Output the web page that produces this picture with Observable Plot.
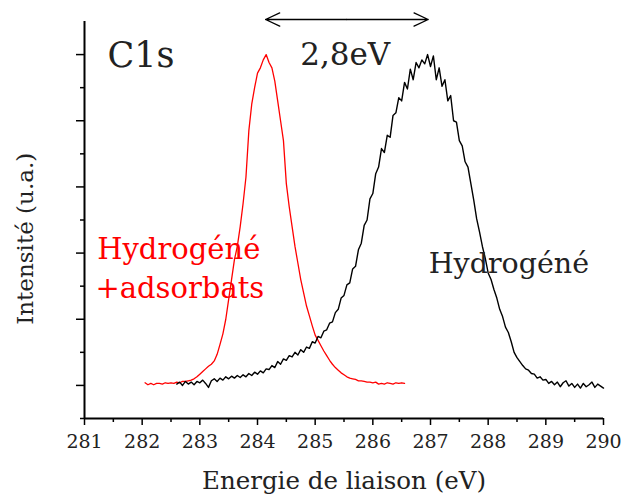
<!DOCTYPE html>
<html><head><meta charset="utf-8">
<script src="https://cdn.jsdelivr.net/npm/d3@7"></script>
<script src="https://cdn.jsdelivr.net/npm/@observablehq/plot@0.6"></script>
<style>
body{margin:0;background:#fff}
</style>
</head><body><div id="chart"></div>
<script>
// Axis ticks
const xTicks = [281, 282, 283, 284, 285, 286, 287, 288, 289, 290];
const xMinorTicks = [281.5, 282.5, 283.5, 284.5, 285.5, 286.5, 287.5, 288.5, 289.5];
const yTicks = [0, 1, 2, 3, 4, 5];
const yMinorTicks = [-0.5, 0.5, 1.5, 2.5, 3.5, 4.5];

// Spectra sampling (eV)
const redStart = 282.05, blackStart = 282.60, stepEv = 0.05;

// "Hydrogéné + adsorbats" (red), 282.05 -> 286.55 eV
const redIntensity = [
  0.04,0.01,0.03,0.01,0.03,0.03,0.02,0.04,0.03,0.04,0.03,0.05,0.04,0.06,0.06,0.07,0.08,0.10,0.13,
  0.17,0.21,0.25,0.29,0.32,0.37,0.47,0.62,0.78,1.00,1.30,1.60,1.90,2.10,2.40,2.75,3.15,3.85,4.25,4.50,
  4.72,4.80,4.92,5.00,4.88,4.80,4.60,4.30,4.00,3.70,3.05,2.70,2.40,2.10,1.85,1.60,1.40,1.20,1.05,0.90,
  0.76,0.68,0.60,0.52,0.45,0.38,0.32,0.27,0.23,0.19,0.16,0.13,0.11,0.10,0.09,0.07,0.07,0.06,0.05,0.05,
  0.04,0.05,0.02,0.03,0.02,0.04,0.03,0.02,0.04,0.03,0.04,0.03
];

// "Hydrogéné" (black), 282.60 -> 290.00 eV
const blackIntensity = [
  0.02,0.05,0.00,0.06,0.02,0.05,0.01,0.06,
  0.04,0.08,0.03,-0.03,0.07,0.10,0.06,0.11,0.08,0.13,0.10,0.14,0.11,0.15,0.12,0.16,0.13,0.18,0.15,0.20,
  0.17,0.22,0.19,0.25,0.24,0.30,0.27,0.36,0.32,0.40,0.38,0.45,0.43,0.50,0.46,0.54,0.50,0.58,0.56,0.66,
  0.64,0.74,0.72,0.82,0.84,0.94,0.96,1.10,1.15,1.32,1.36,1.52,1.55,1.76,1.80,2.05,2.15,2.42,2.50,2.82,
  2.90,3.20,3.30,3.58,3.52,3.78,3.75,4.08,4.12,4.35,4.30,4.58,4.48,4.78,4.62,4.88,4.80,4.92,4.86,5.00,
  4.82,4.98,4.62,4.80,4.52,4.62,4.30,4.38,4.00,3.98,3.70,3.62,3.38,3.30,3.05,2.80,2.52,2.32,2.10,1.92,
  1.70,1.60,1.45,1.32,1.15,1.04,0.88,0.80,0.66,0.50,0.42,0.36,0.30,0.25,0.23,0.18,0.17,0.11,0.13,0.08,
  0.09,0.03,0.06,0.01,0.05,-0.02,0.04,0.07,-0.01,0.03,-0.03,0.02,-0.04,0.03,-0.02,0.01,0.05,-0.03,0.02,-0.01,
  -0.04
];

// Peak positions joined by the double arrow
const peakShift = [284.14, 286.96];

const redData = redIntensity.map((v, i) => ({e: redStart + i * stepEv, v}));
const blackData = blackIntensity.map((v, i) => ({e: blackStart + i * stepEv, v}));
const mid = d3.mean(peakShift);
const serif = "DejaVu Serif";

const chart = Plot.plot({
  width: 621,
  height: 498,
  marginLeft: 84,
  marginRight: 18,
  marginTop: 21,
  marginBottom: 80,
  style: "font-family: 'DejaVu Serif'; font-size: 19px; background: #fff; color: #000;",
  x: {domain: [281, 290], label: null},
  y: {domain: [-0.5, 5.5], label: null},
  marks: [
    Plot.line(redData, {x: "e", y: "v", stroke: "#ff0000", strokeWidth: 1.3}),
    Plot.line(blackData, {x: "e", y: "v", stroke: "#000", strokeWidth: 1.4}),
    Plot.ruleX([281], {y1: -0.5, y2: 5.5, strokeWidth: 2}),
    Plot.ruleY([-0.5], {x1: 281, x2: 290, strokeWidth: 2}),
    Plot.axisX({ticks: xTicks, tickSize: 7, tickPadding: 9, strokeWidth: 1.5, fontSize: 19, fontFamily: serif, fill: "#222", tickFormat: d => String(d)}),
    Plot.axisX({ticks: xMinorTicks, tickSize: 4, strokeWidth: 1.5, fill: "none"}),
    Plot.axisY({ticks: yTicks, tickSize: 8, strokeWidth: 1.5, fill: "none"}),
    Plot.axisY({ticks: yMinorTicks, tickSize: 4, strokeWidth: 1.5, fill: "none"}),
    Plot.arrow(peakShift, {x1: () => mid, x2: d => d, y1: 5.53, y2: 5.53, headLength: 18, headAngle: 50, strokeWidth: 1.3}),
    Plot.text(["C1s"], {x: 281.4, y: 4.978, text: d => d, textAnchor: "start", lineAnchor: "middle", fontSize: 35, fontFamily: serif, fill: "#222"}),
    Plot.text(["2,8eV"], {x: 284.74, y: 5.0, text: d => d, textAnchor: "start", lineAnchor: "middle", fontSize: 31, fontFamily: serif, fill: "#222"}),
    Plot.text(["Hydrogéné"], {x: 281.22, y: 2.054, text: d => d, textAnchor: "start", lineAnchor: "middle", fontSize: 29, fontFamily: serif, fill: "#ff0000"}),
    Plot.text(["+adsorbats"], {x: 281.19, y: 1.463, text: d => d, textAnchor: "start", lineAnchor: "middle", fontSize: 29, fontFamily: serif, fill: "#ff0000"}),
    Plot.text(["Hydrogéné"], {x: 286.97, y: 1.836, text: d => d, textAnchor: "start", lineAnchor: "middle", fontSize: 28.5, fontFamily: serif, fill: "#222"}),
    Plot.text(["Energie de liaison (eV)"], {x: 285.5, y: -1.452, text: d => d, textAnchor: "middle", lineAnchor: "middle", fontSize: 24.5, fontFamily: serif, fill: "#222"}),
    Plot.text(["Intensité (u.a.)"], {x: 281, y: 2.216, dx: -58.5, text: d => d, rotate: -90, textAnchor: "middle", lineAnchor: "middle", fontSize: 23, fontFamily: serif, fill: "#222"})
  ]
});
document.getElementById("chart").appendChild(chart);
</script>
</body></html>
